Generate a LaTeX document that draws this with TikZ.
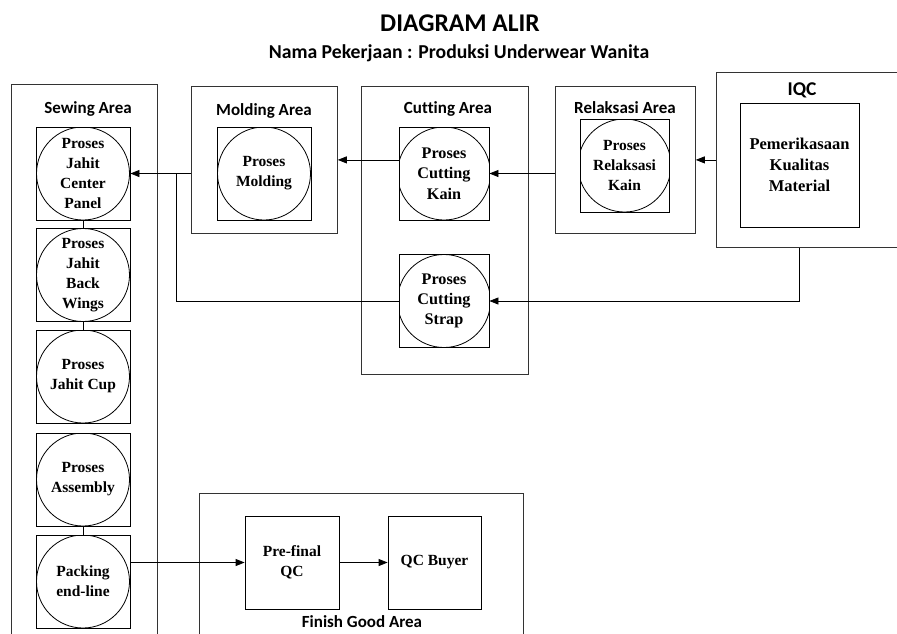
\documentclass[tikz,border=0pt]{standalone}
\usepackage{fontspec}
\setmainfont{Liberation Serif}
\newfontfamily\calib[Ligatures=NoCommon]{Carlito}
\usetikzlibrary{arrows.meta}
\begin{document}
\begin{tikzpicture}[x=1pt,y=-1pt,line width=0.8pt,
  frame/.style={draw=black!80,inner sep=0pt,anchor=north west},
  arealabel/.style={font=\calib\bfseries\fontsize{17}{19}\selectfont,anchor=base,inner sep=0pt},
  plainbox/.style={draw,inner sep=0pt,align=center,minimum width=94pt,minimum height=93pt,
    font=\bfseries\fontsize{15.5}{20}\selectfont},
  procbox/.style={plainbox,path picture={\draw[line width=0.8pt] (path picture bounding box.center) circle (46.5pt);}},
  arr/.style={-{Triangle[length=9pt,width=7pt]}}]
\clip (0,0) rectangle (897,633);
% titles
\node[font=\calib\bfseries\fontsize{25.5}{28}\selectfont,anchor=base,inner sep=0pt] (title) at (460,31) {DIAGRAM ALIR};
\node[font=\calib\bfseries\fontsize{19.7}{22}\selectfont,anchor=base,inner sep=0pt] (sub) at (459,58) {Nama Pekerjaan : Produksi Underwear Wanita};
% area frames
\node[frame,minimum width=146pt,minimum height=600pt] (sew) at (11,84) {};
\node[frame,minimum width=146pt,minimum height=147pt] (mold) at (191,86) {};
\node[frame,minimum width=167pt,minimum height=288pt] (cut) at (361,86) {};
\node[frame,minimum width=140pt,minimum height=147pt] (relax) at (555,86) {};
\node[frame,minimum width=200pt,minimum height=175pt] (iqc) at (716,72) {};
\node[frame,minimum width=324pt,minimum height=200pt] (fg) at (199,493) {};
% area labels
\node[arealabel] (lsew) at (88,113) {Sewing Area};
\node[arealabel] (lmold) at (264,115) {Molding Area};
\node[arealabel] (lcut) at (448,113) {Cutting Area};
\node[arealabel] (lrelax) at (625,113) {Relaksasi Area};
\node[arealabel,font=\calib\bfseries\fontsize{19.5}{22}\selectfont] (liqc) at (802,95) {IQC};
\node[arealabel] (lfg) at (362,627) {Finish Good Area};
% sewing processes
\node[procbox] (p1) at (83,173.5) {Proses\\Jahit\\Center\\Panel};
\node[procbox] (p2) at (83,275) {Proses\\Jahit\\Back\\Wings};
\node[procbox] (p3) at (83,376.5) {Proses\\Jahit Cup};
\node[procbox] (p4) at (83,479.5) {Proses\\Assembly};
\node[procbox] (p5) at (83,581.5) {Packing\\end-line};
% other processes
\node[procbox] (pm) at (264,173.5) {Proses\\Molding};
\node[procbox,minimum width=90pt,font=\bfseries\fontsize{16.2}{20.5}\selectfont] (pck) at (444,173.5) {Proses\\Cutting\\Kain};
\node[procbox,minimum width=90pt,font=\bfseries\fontsize{16.2}{20}\selectfont] (pcs) at (444,301) {Proses\\Cutting\\Strap};
\node[procbox,minimum width=89pt] (pr) at (624.5,165.5) {Proses\\Relaksasi\\Kain};
\node[plainbox,minimum width=119pt,minimum height=124pt,font=\bfseries\fontsize{16.5}{21}\selectfont] (pq) at (799.5,165) {Pemerikasaan\\Kualitas\\Material};
\node[plainbox] (pf) at (292,562.5) {Pre-final\\QC};
\node[plainbox,minimum width=93pt] (pb) at (434.5,562.5) {QC Buyer};
% connectors
\draw (p1) -- (p2);
\draw (p2) -- (p3);
\draw (p4) -- (p5);
\draw[arr] (mold.west |- p1.east) -- (p1.east);
\coordinate (br) at (176,173.5);
\draw (br) |- (pcs.west);
\draw[arr] (pck.west |- mold.east) -- (mold.east);
\draw[arr] (relax.west |- pck.east) -- (pck.east);
\draw[arr] (iqc.west |- relax.east) -- (relax.east);
\draw[arr] (pq.south |- iqc.south) |- (pcs.east);
\draw[arr] (p5.east |- pf.west) -- (pf.west);
\draw[arr] (pf.east) -- (pb.west);
\end{tikzpicture}
\end{document}
